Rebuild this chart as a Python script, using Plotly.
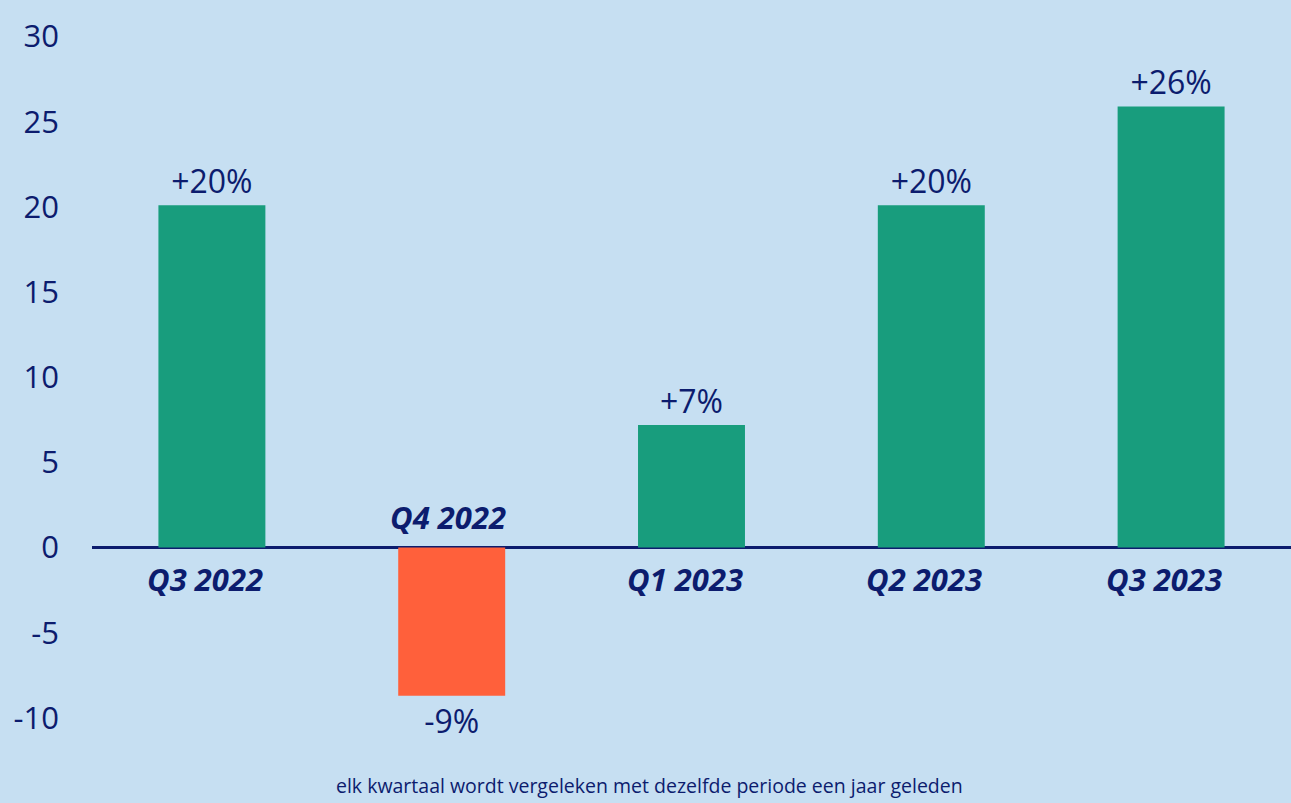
import plotly.graph_objects as go

categories = ["Q3 2022", "Q4 2022", "Q1 2023", "Q2 2023", "Q3 2023"]
values = [20.1, -8.7, 7.2, 20.1, 25.9]
value_labels = ["+20%", "-9%", "+7%", "+20%", "+26%"]
tick_values = [-10, -5, 0, 5, 10, 15, 20, 25, 30]
tick_labels = ["-10", "-5", "0", "5", "10", "15", "20", "25", "30"]
caption = "elk kwartaal wordt vergeleken met dezelfde periode een jaar geleden"

NAVY = "#0C1C6E"
GREEN = "#189D7D"
ORANGE = "#FF603B"
BG = "#C6DFF2"
FONT = "Open Sans"

colors = [GREEN if v >= 0 else ORANGE for v in values]

fig = go.Figure(go.Bar(
    x=categories,
    y=values,
    marker=dict(color=colors, line=dict(width=0)),
    text=value_labels,
    textposition="outside",
    textfont=dict(family=FONT, size=32, color=NAVY),
    cliponaxis=False,
    hoverinfo="skip",
))

annotations = []
for c, v in zip(categories, values):
    if v >= 0:
        annotations.append(dict(x=c, y=0, xref="x", yref="y", text="<b><i>%s</i></b>" % c,
                                showarrow=False, yanchor="top", yshift=-8, xshift=-7,
                                font=dict(family=FONT, size=31, color=NAVY)))
    else:
        annotations.append(dict(x=c, y=0, xref="x", yref="y", text="<b><i>%s</i></b>" % c,
                                showarrow=False, yanchor="bottom", yshift=8, xshift=-4,
                                font=dict(family=FONT, size=31, color=NAVY)))
annotations.append(dict(x=0.465, y=-0.045, xref="paper", yref="paper", text=caption,
                        showarrow=False, xanchor="center", yanchor="middle",
                        font=dict(family=FONT, size=19.5, color=NAVY)))

fig.update_layout(
    width=1291, height=803,
    paper_bgcolor=BG, plot_bgcolor=BG,
    margin=dict(l=92, r=0, t=11, b=51),
    bargap=0.554,
    showlegend=False,
    font=dict(family=FONT, color=NAVY),
    annotations=annotations,
    xaxis=dict(showticklabels=False, showgrid=False, zeroline=False, showline=False,
               range=[-0.5, 4.5], fixedrange=True),
    yaxis=dict(range=[-12, 31.5], tickvals=tick_values, ticktext=tick_labels, showgrid=False,
               zeroline=True, zerolinecolor=NAVY, zerolinewidth=2.5,
               showline=False, ticks="", ticklabelstandoff=32,
               tickfont=dict(family=FONT, size=31, color=NAVY), fixedrange=True),
)

fig.write_html("out.html", config={"displayModeBar": False},
               post_script="document.body.style.margin='0';document.body.style.background='%s';" % BG)
